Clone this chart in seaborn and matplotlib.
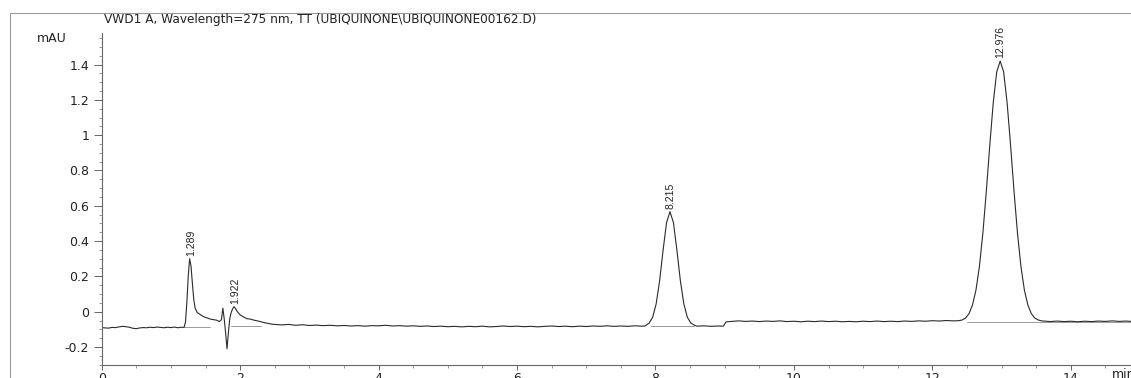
import numpy as np
import pandas as pd
import matplotlib
matplotlib.use("Agg")
import matplotlib.pyplot as plt
from matplotlib.lines import Line2D
from matplotlib.ticker import MultipleLocator, FixedLocator, FixedFormatter
import seaborn as sns

# ---------------- data ----------------
time_min = [
    0.00, 0.05, 0.10, 0.15, 0.20, 0.25, 0.30, 0.35, 0.40, 0.45, 0.50, 0.55, 0.60, 0.65,
    0.70, 0.75, 0.80, 0.85, 0.90, 0.95, 1.00, 1.05, 1.10, 1.15, 1.19,
    1.21, 1.23, 1.25, 1.27, 1.29, 1.31, 1.33, 1.35, 1.38, 1.42, 1.47, 1.52, 1.57, 1.62,
    1.66, 1.70, 1.73, 1.75, 1.77, 1.79, 1.81, 1.83, 1.85, 1.87, 1.89, 1.91, 1.93, 1.96,
    2.00, 2.05, 2.10, 2.15, 2.20, 2.25, 2.30, 2.35, 2.40, 2.45, 2.50,
    2.6, 2.7, 2.8, 2.9, 3.0, 3.1, 3.2, 3.3, 3.4, 3.5, 3.6, 3.7, 3.8, 3.9,
    4.0, 4.1, 4.2, 4.3, 4.4, 4.5, 4.6, 4.7, 4.8, 4.9, 5.0, 5.1, 5.2, 5.3, 5.4,
    5.5, 5.6, 5.7, 5.8, 5.9, 6.0, 6.1, 6.2, 6.3, 6.4, 6.5, 6.6, 6.7, 6.8, 6.9,
    7.0, 7.1, 7.2, 7.3, 7.4, 7.5, 7.6, 7.7, 7.8, 7.85,
    7.91, 7.96, 8.01, 8.06, 8.11, 8.16, 8.21, 8.26, 8.31, 8.36, 8.41, 8.46, 8.51, 8.56,
    8.6, 8.7, 8.8, 8.9, 8.98, 9.02, 9.1, 9.2, 9.3, 9.4, 9.5, 9.6, 9.7, 9.8, 9.9,
    10.0, 10.1, 10.2, 10.3, 10.4, 10.5, 10.6, 10.7, 10.8, 10.9, 11.0, 11.1, 11.2,
    11.3, 11.4, 11.5, 11.6, 11.7, 11.8, 11.9, 12.0, 12.1, 12.2, 12.3, 12.38,
    12.43, 12.48, 12.53, 12.58, 12.63, 12.68, 12.73, 12.78, 12.83, 12.88, 12.93, 12.98,
    13.03, 13.08, 13.13, 13.18, 13.23, 13.28, 13.33, 13.38, 13.43, 13.48, 13.53, 13.58,
    13.7, 13.8, 13.9, 14.0, 14.1, 14.2, 14.3, 14.4, 14.5, 14.6, 14.7, 14.8, 14.9,
]
absorbance_mau = [
    -0.090, -0.092, -0.093, -0.089, -0.090, -0.086, -0.083, -0.085, -0.088, -0.094, -0.096, -0.092, -0.090, -0.091,
    -0.088, -0.090, -0.087, -0.089, -0.091, -0.088, -0.090, -0.087, -0.091, -0.088, -0.089,
    -0.060, 0.050, 0.200, 0.300, 0.260, 0.160, 0.070, 0.020, -0.005, -0.015, -0.028, -0.035, -0.042, -0.045,
    -0.048, -0.056, -0.045, 0.020, -0.040, -0.120, -0.210, -0.120, -0.040, -0.005, 0.015, 0.028, 0.020, 0.000,
    -0.018, -0.030, -0.040, -0.042, -0.048, -0.052, -0.057, -0.062, -0.066, -0.070, -0.072,
    -0.075, -0.072, -0.077, -0.074, -0.078, -0.076, -0.079, -0.077, -0.080, -0.078, -0.081, -0.079, -0.082, -0.079,
    -0.080, -0.077, -0.081, -0.079, -0.082, -0.080, -0.083, -0.081, -0.084, -0.082, -0.085, -0.083, -0.086, -0.083, -0.085,
    -0.082, -0.086, -0.084, -0.081, -0.084, -0.082, -0.085, -0.083, -0.086, -0.083, -0.081, -0.084, -0.082, -0.085, -0.082,
    -0.084, -0.081, -0.083, -0.080, -0.083, -0.081, -0.083, -0.080, -0.082, -0.081,
    -0.064, -0.031, 0.044, 0.175, 0.348, 0.504, 0.567, 0.504, 0.348, 0.175, 0.044, -0.031, -0.064, -0.076,
    -0.082, -0.080, -0.083, -0.081, -0.082, -0.058, -0.055, -0.052, -0.055, -0.053, -0.056, -0.053, -0.055, -0.052, -0.056,
    -0.054, -0.057, -0.054, -0.056, -0.053, -0.056, -0.054, -0.057, -0.055, -0.057, -0.054, -0.056, -0.053,
    -0.056, -0.054, -0.056, -0.053, -0.055, -0.052, -0.054, -0.051, -0.053, -0.050, -0.052, -0.051,
    -0.047, -0.036, -0.011, 0.038, 0.122, 0.256, 0.445, 0.683, 0.944, 1.185, 1.358, 1.420,
    1.358, 1.185, 0.944, 0.683, 0.445, 0.256, 0.122, 0.038, -0.011, -0.036, -0.047, -0.052,
    -0.056, -0.053, -0.056, -0.054, -0.057, -0.054, -0.056, -0.053, -0.055, -0.052, -0.055, -0.053, -0.056,
]

peak_times = [1.289, 1.922, 8.215, 12.976]
peak_heights = [0.300, 0.028, 0.567, 1.420]
peak_labels = ["1.289", "1.922", "8.215", "12.976"]

# integration baselines (start time, end time, level)
base_starts = [1.19, 1.87, 7.93, 12.50]
base_ends = [1.57, 2.30, 8.55, 14.90]
base_levels = [-0.085, -0.083, -0.083, -0.058]

x_ticks = [0, 2, 4, 6, 8, 10, 12, 14]
x_tick_labels = ["0", "2", "4", "6", "8", "10", "12", "14"]
y_ticks = [-0.2, 0.0, 0.2, 0.4, 0.6, 0.8, 1.0, 1.2, 1.4]
y_tick_labels = ["-0.2", "0", "0.2", "0.4", "0.6", "0.8", "1", "1.2", "1.4"]

title = "VWD1 A, Wavelength=275 nm, TT (UBIQUINONE\\UBIQUINONE00162.D)"

# ---------------- plot ----------------
sns.set_style("ticks")
plt.rcParams["font.family"] = ["DejaVu Sans"]

W, H = 1131, 378
fig = plt.figure(figsize=(W / 100, H / 100), dpi=100)
ax_left, ax_right = 101.7 / W, 1.0
ax_bottom, ax_top = 1 - 365 / H, 1 - 33 / H
ax = fig.add_axes([ax_left, ax_bottom, ax_right - ax_left, ax_top - ax_bottom])

df = pd.DataFrame({"time": time_min, "mAU": absorbance_mau})
sns.lineplot(data=df, x="time", y="mAU", ax=ax, color="#2b2b2b", linewidth=0.8,
             estimator=None, sort=False)

for s, e, lv in zip(base_starts, base_ends, base_levels):
    ax.plot([s, e], [lv, lv], color="#8a8a8a", linewidth=0.6, zorder=1)

for t, h, lab in zip(peak_times, peak_heights, peak_labels):
    ax.text(t, h + 0.015, lab, rotation=90, ha="center", va="bottom",
            fontsize=7.5, color="#222222",
            family=["Liberation Sans Narrow", "Liberation Sans", "DejaVu Sans"])

ax.set_xlim(0, 14.87)
ax.set_ylim(-0.302, 1.579)
ax.xaxis.set_major_locator(FixedLocator(x_ticks))
ax.xaxis.set_major_formatter(FixedFormatter(x_tick_labels))
ax.yaxis.set_major_locator(FixedLocator(y_ticks))
ax.yaxis.set_major_formatter(FixedFormatter(y_tick_labels))
ax.xaxis.set_minor_locator(MultipleLocator(0.5))
ax.yaxis.set_minor_locator(MultipleLocator(0.05))
ax.set_xlabel("")
ax.set_ylabel("")

for side in ["top", "right"]:
    ax.spines[side].set_visible(False)
for side in ["left", "bottom"]:
    ax.spines[side].set_color("#666666")
    ax.spines[side].set_linewidth(0.8)

ax.tick_params(axis="both", which="major", width=0.7, color="#666666",
               labelsize=9, labelcolor="#222222")
ax.tick_params(axis="y", which="major", length=5.5, pad=3.5)
ax.tick_params(axis="x", which="major", length=3.6, pad=1.2)
ax.tick_params(axis="both", which="minor", length=2.5, width=0.6, color="#888888")

# header / frame texts
fig.text(104 / W, 1 - 20 / H, title, fontsize=8.7, color="#222222", va="center", ha="left")
fig.text(37 / W, 1 - 38 / H, "mAU", fontsize=9, color="#222222", va="center", ha="left")
fig.text(1112 / W, 1 - 375 / H, "min", fontsize=9, color="#222222", va="center", ha="left")

fig.add_artist(Line2D([10 / W, 1.0], [1 - 13 / H, 1 - 13 / H], transform=fig.transFigure,
                      color="#9a9a9a", linewidth=0.8))
fig.add_artist(Line2D([10 / W, 10 / W], [0.0, 1 - 13 / H], transform=fig.transFigure,
                      color="#9a9a9a", linewidth=0.8))

fig.savefig("out.png", dpi=100, facecolor="white")
